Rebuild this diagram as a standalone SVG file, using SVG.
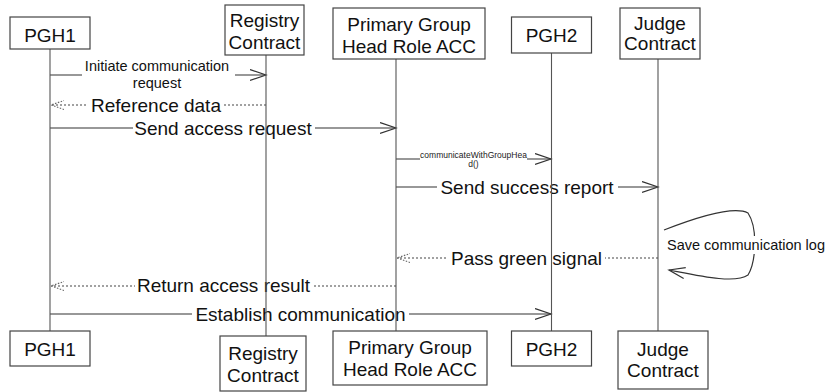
<svg xmlns="http://www.w3.org/2000/svg" width="831" height="392" viewBox="0 0 831 392">
<style>
.box{fill:#fff;stroke:#444;stroke-width:1.2}
.life{stroke:#555;stroke-width:1.1;fill:none}
.lbl{font-family:"Liberation Sans",Arial,sans-serif;font-size:19px;fill:#111;text-anchor:middle}
.msg{stroke:#333;stroke-width:1.2;fill:none}
.ret{stroke:#444;stroke-width:1.2;fill:none;stroke-dasharray:2 2}
.bg{fill:#fff}
.t19{font-family:"Liberation Sans",Arial,sans-serif;font-size:19px;fill:#111;text-anchor:middle}
.t14{font-family:"Liberation Sans",Arial,sans-serif;font-size:14.5px;fill:#111;text-anchor:middle}
.t8{font-family:"Liberation Sans",Arial,sans-serif;font-size:8.5px;fill:#222;text-anchor:middle}
</style>
<defs>
<marker id="arr" markerWidth="18" markerHeight="14" refX="16" refY="6" orient="auto" markerUnits="userSpaceOnUse">
<path d="M0,0.5 L16,6 L0,11.5" fill="none" stroke="#333" stroke-width="1.2"/>
</marker>
<marker id="darr" markerWidth="16" markerHeight="12" refX="13" refY="5" orient="auto" markerUnits="userSpaceOnUse">
<path d="M0,0.5 L13,5 L0,9.5" fill="none" stroke="#666" stroke-width="1.1" stroke-dasharray="1.5 1.5"/>
</marker>
</defs>
<rect width="831" height="392" fill="#fff"/>
<g id="connectors">
<g id="m1">
<line class="msg" x1="50" y1="75" x2="266" y2="75" marker-end="url(#arr)"/>
<rect class="bg" x="82" y="60" width="153" height="31"/>
<text class="t14" x="157" y="71">Initiate communication</text>
<text class="t14" x="157" y="88">request</text>
</g>
<g id="m2">
<line class="ret" x1="266" y1="105" x2="51" y2="105" marker-end="url(#darr)"/>
<rect class="bg" x="87" y="94" width="137" height="22"/>
<text class="t19" x="156" y="111.5">Reference data</text>
</g>
<g id="m3">
<line class="msg" x1="50" y1="128" x2="396" y2="128" marker-end="url(#arr)"/>
<rect class="bg" x="133" y="117" width="182" height="22"/>
<text class="t19" x="223" y="134.5">Send access request</text>
</g>
<g id="m4">
<line class="msg" x1="396" y1="159" x2="551" y2="159" marker-end="url(#arr)"/>
<rect class="bg" x="420" y="150" width="107" height="19"/>
<text class="t8" x="473.5" y="158">communicateWithGroupHea</text>
<text class="t8" x="473.5" y="166.5">d()</text>
</g>
<g id="m5">
<line class="msg" x1="396" y1="187" x2="658" y2="187" marker-end="url(#arr)"/>
<rect class="bg" x="437" y="176" width="181" height="22"/>
<text class="t19" x="527" y="193.5">Send success report</text>
</g>
<g id="m6">
<path class="msg" d="M664,230 C705,214 735,206 748,213 C758,228 756,262 748,275 C735,284 700,276 669,270" marker-end="url(#arr)"/>
<rect class="bg" x="665" y="236" width="163" height="18"/>
<text class="t14" x="746" y="249.5">Save communication log</text>
</g>
<g id="m7">
<line class="ret" x1="658" y1="258" x2="397" y2="258" marker-end="url(#darr)"/>
<rect class="bg" x="448" y="247" width="157" height="22"/>
<text class="t19" x="526.5" y="264.5">Pass green signal</text>
</g>
<g id="m8">
<line class="ret" x1="396" y1="286" x2="51" y2="286" marker-end="url(#darr)"/>
<rect class="bg" x="135" y="275" width="177" height="22"/>
<text class="t19" x="223.5" y="292">Return access result</text>
</g>
<g id="m9">
<line class="msg" x1="50" y1="314" x2="551" y2="314" marker-end="url(#arr)"/>
<rect class="bg" x="192" y="303" width="217" height="22"/>
<text class="t19" x="300.5" y="320.5">Establish communication</text>
</g>
</g>
<g id="PGH1">
<line class="life" x1="50" y1="49" x2="50" y2="331"/>
<rect class="box" x="10" y="17" width="80" height="32"/>
<text class="lbl" x="50" y="41.5">PGH1</text>
<rect class="box" x="10" y="331" width="80" height="35"/>
<text class="lbl" x="50" y="355.5">PGH1</text>
</g>
<g id="RegistryContract">
<line class="life" x1="266" y1="55" x2="266" y2="336"/>
<rect class="box" x="225" y="5" width="79" height="50"/>
<text class="lbl" x="264.5" y="27">Registry</text>
<text class="lbl" x="264.5" y="48.5">Contract</text>
<rect class="box" x="220" y="336" width="86" height="55"/>
<text class="lbl" x="263" y="360">Registry</text>
<text class="lbl" x="263" y="382">Contract</text>
</g>
<g id="PrimaryGroupHeadRoleACC">
<line class="life" x1="396" y1="59" x2="396" y2="331"/>
<rect class="box" x="333" y="8" width="152" height="51"/>
<text class="lbl" x="409" y="30.5">Primary Group</text>
<text class="lbl" x="409" y="53">Head Role ACC</text>
<rect class="box" x="333" y="331" width="154" height="54"/>
<text class="lbl" x="410" y="353.5">Primary Group</text>
<text class="lbl" x="410" y="375.5">Head Role ACC</text>
</g>
<g id="PGH2">
<line class="life" x1="551.5" y1="53" x2="551.5" y2="331"/>
<rect class="box" x="511.5" y="17" width="80" height="36"/>
<text class="lbl" x="551.5" y="41.5">PGH2</text>
<rect class="box" x="511.5" y="331" width="80" height="35"/>
<text class="lbl" x="551.5" y="355.5">PGH2</text>
</g>
<g id="JudgeContract">
<line class="life" x1="658" y1="59" x2="658" y2="331"/>
<rect class="box" x="620" y="8" width="80" height="51"/>
<text class="lbl" x="660" y="29.5">Judge</text>
<text class="lbl" x="660" y="49.5">Contract</text>
<rect class="box" x="618" y="331" width="90" height="58"/>
<text class="lbl" x="663" y="356">Judge</text>
<text class="lbl" x="663" y="377">Contract</text>
</g>
</svg>
